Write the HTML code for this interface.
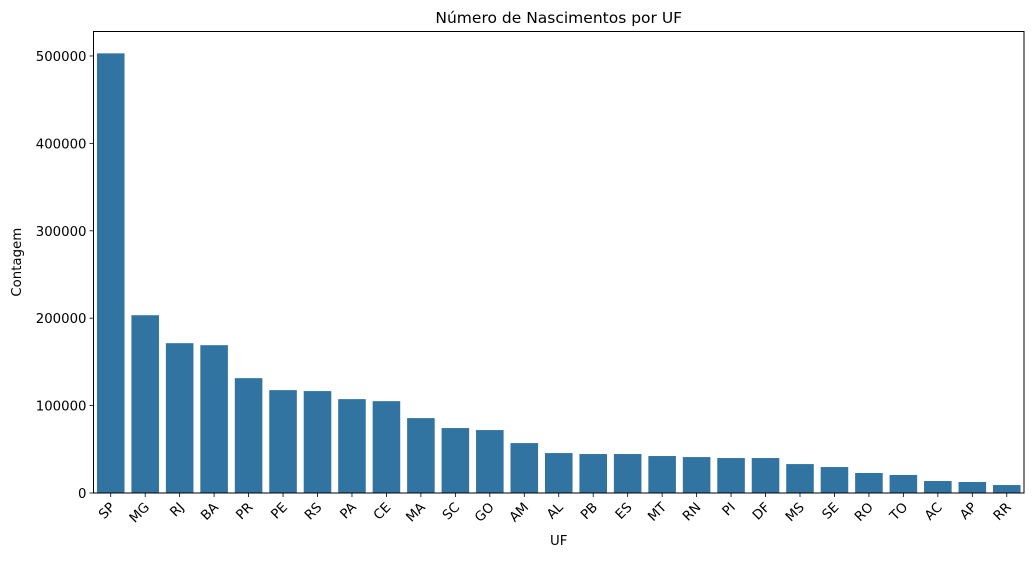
<!DOCTYPE html>
<html><head><meta charset="utf-8"><style>
body{margin:0;background:#fff;font-family:"DejaVu Sans","Liberation Sans",sans-serif;}
svg text{font-family:"DejaVu Sans","Liberation Sans",sans-serif;}
</style></head><body>
<svg id="chart" width="1032" height="558" xmlns="http://www.w3.org/2000/svg"></svg>
<script>
const categories=["SP","MG","RJ","BA","PR","PE","RS","PA","CE","MA","SC","GO","AM","AL","PB","ES","MT","RN","PI","DF","MS","SE","RO","TO","AC","AP","RR"];
const counts=[503000,203400,171400,169100,131400,117700,116600,107400,105100,85700,74300,72000,57100,45700,44600,44600,42300,41100,40000,40000,33100,29700,22900,20600,13700,12600,9100];
const yTicks=[0,100000,200000,300000,400000,500000];
const L=93.5,R=1024,T=31.5,B=493;
const yMax=528000;
const svg=document.getElementById('chart');
const NS='http://www.w3.org/2000/svg';
function y(v){return B-(v/yMax)*(B-T);}
const step=(R-L)/categories.length;
function x(i){return L+step*(i+0.5);}
function mk(tag,attrs,txt){const e=document.createElementNS(NS,tag);for(const k in attrs)e.setAttribute(k,attrs[k]);if(txt!==undefined)e.textContent=txt;svg.appendChild(e);return e;}
counts.forEach((v,i)=>{
 const w=step*0.8;
 const r=mk('rect',{x:x(i)-w/2,y:y(v),width:w,height:B-y(v),fill:'#3274a1'});
 
 
 mk('line',{x1:x(i),x2:x(i),y1:B,y2:B+4,stroke:'#000','stroke-width':0.8});
 const t=mk('text',{x:x(i)+5,y:B+15,'font-size':13.3,'text-anchor':'end',transform:`rotate(-45 ${x(i)+5} ${B+15})`},categories[i]);
 
 
});
yTicks.forEach(v=>{
 mk('line',{x1:L-4,x2:L,y1:y(v),y2:y(v),stroke:'#000','stroke-width':0.8});
 const t=mk('text',{x:L-7,y:y(v)+5,'font-size':13.3,'text-anchor':'end'},String(v));
 
 
});
const f=mk('rect',{x:L,y:T,width:R-L,height:B-T,fill:'none',stroke:'#000','stroke-width':1});


const tt=mk('text',{x:(L+R)/2,y:23,'font-size':15.5,'text-anchor':'middle'},'Número de Nascimentos por UF');


const xt=mk('text',{x:(L+R)/2,y:545,'font-size':13.3,'text-anchor':'middle'},'UF');


const yt=mk('text',{x:21,y:(T+B)/2,'font-size':13.3,'text-anchor':'middle',transform:`rotate(-90 21 ${(T+B)/2})`},'Contagem');


</script>
</body></html>
